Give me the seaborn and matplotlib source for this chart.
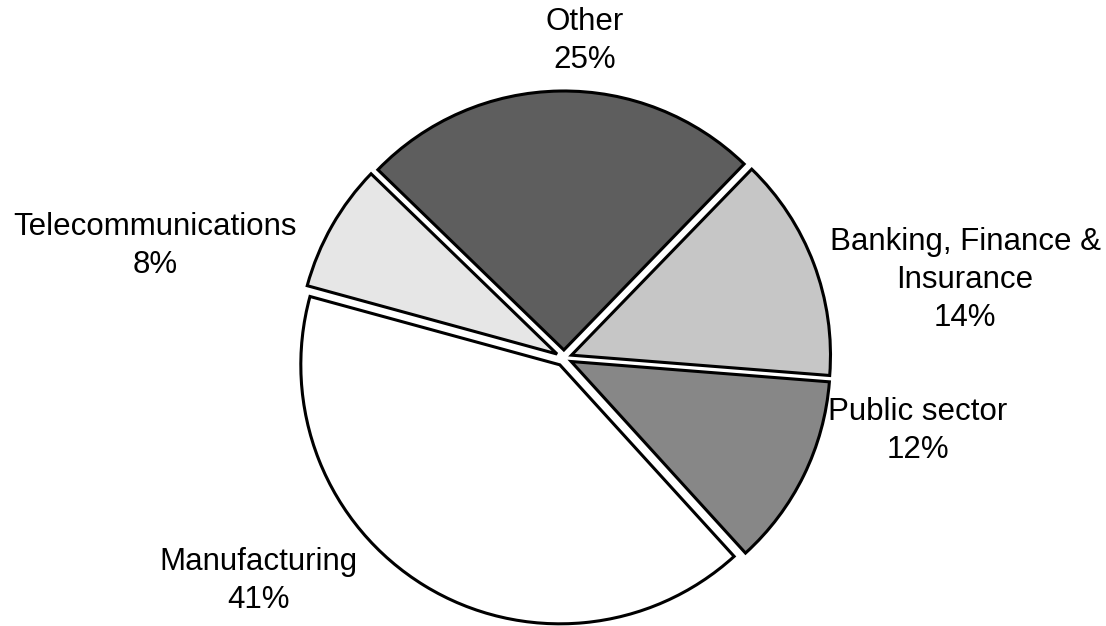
import matplotlib.pyplot as plt
import seaborn as sns

sns.set_theme(style="white")
plt.rcParams["font.family"] = ["Liberation Sans", "DejaVu Sans"]

# Sector shares (%)
sectors = ["Public sector", "Banking, Finance &\nInsurance", "Other",
           "Telecommunications", "Manufacturing"]
shares = [12, 14, 25, 8, 41]
shades = ["#878787", "#c6c6c6", "#5e5e5e", "#e6e6e6", "#ffffff"]

W, H = 1106, 626
fig = plt.figure(figsize=(W / 100, H / 100), dpi=100)
ax = fig.add_axes([0, 0, 1, 1])

cx, cy, r = 564, H - 358, 259

# explode is in data units here (pixels)
ax.pie(
    shares,
    colors=shades,
    startangle=-47.7,
    counterclock=True,
    explode=[8] * len(shares),
    center=(cx, cy),
    radius=r,
    wedgeprops=dict(edgecolor="black", linewidth=2.2),
)

# label positions in pixel coordinates (x, y from top)
label_pos = {
    "Public sector": (918, 431),
    "Banking, Finance &\nInsurance": (965, 280),
    "Other": (585, 41),
    "Telecommunications": (155, 246),
    "Manufacturing": (258, 581),
}

for name, pct in zip(sectors, shares):
    x, y = label_pos[name]
    ax.text(
        x, H - y,
        f"{name}\n{pct}%",
        ha="center",
        va="center",
        fontsize=22.5,
        linespacing=1.35,
        color="black",
    )

ax.set_xlim(0, W)
ax.set_ylim(0, H)
ax.set_aspect("equal")
ax.axis("off")

fig.savefig("out.png", dpi=100, facecolor="white")
